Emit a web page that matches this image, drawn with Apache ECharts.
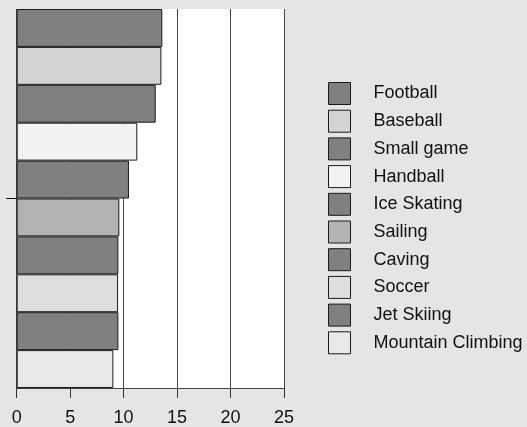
<!DOCTYPE html>
<html><head><meta charset="utf-8">
<script src="https://cdn.jsdelivr.net/npm/echarts@6/dist/echarts.min.js"></script>
<style>html,body{margin:0;padding:0;background:#e5e5e5}#c{width:527px;height:427px}</style>
</head><body><div id="c"></div>
<script>
const categories = ["Football","Baseball","Small game","Handball","Ice Skating","Sailing","Caving","Soccer","Jet Skiing","Mountain Climbing"];
const values = [13.62, 13.53, 13.0, 11.28, 10.5, 9.6, 9.51, 9.48, 9.51, 9.04];
const colors = ["#808080","#d3d3d3","#808080","#f2f2f2","#808080","#b3b3b3","#808080","#dedede","#808080","#e9e9e9"];
const xTicks = [0,5,10,15,20,25];

const font = "'Liberation Sans', Arial, sans-serif";
const series = categories.map((name, i) => ({
  name: name,
  type: 'bar',
  stack: 'all',
  barCategoryGap: '0%',
  barWidth: '100%',
  itemStyle: { color: colors[i], borderColor: '#1a1a1a', borderWidth: 1 },
  emphasis: { disabled: true },
  data: categories.map((c, j) => j === i ? values[i] : '-')
}));

const chart = echarts.init(document.getElementById('c'), null, { renderer: 'canvas' });
chart.setOption({
  animation: false,
  backgroundColor: '#e5e5e5',
  textStyle: { fontFamily: font },
  grid: { left: 16.7, right: 243, top: 9, bottom: 39, show: true, backgroundColor: '#ffffff', borderWidth: 0, containLabel: false },
  xAxis: {
    type: 'value', min: xTicks[0], max: xTicks[xTicks.length-1], interval: 5,
    axisLine: { show: true, lineStyle: { color: '#444', width: 1 } },
    axisTick: { show: true, length: 10, lineStyle: { color: '#333', width: 1 } },
    axisLabel: { color: '#111', fontSize: 18, margin: 21, fontFamily: font },
    splitLine: { show: true, lineStyle: { color: '#444', width: 1 } }
  },
  yAxis: [{
    type: 'category', data: categories, inverse: true,
    axisLine: { show: false }, axisTick: { show: false }, axisLabel: { show: false },
    splitLine: { show: false }
  }, {
    type: 'value', min: 0, max: 10, position: 'left',
    axisLine: { show: false },
    axisLabel: { show: false },
    splitLine: { show: false },
    axisTick: { show: true, length: 10.5, customValues: [5], lineStyle: { color: '#111', width: 1 } }
  }],
  legend: {
    orient: 'vertical', left: 328, top: 82, padding: 0,
    itemWidth: 22, itemHeight: 22, itemGap: 4.7,
    icon: 'rect',
    itemStyle: { borderColor: '#1a1a1a', borderWidth: 1 },
    textStyle: { fontSize: 18, lineHeight: 22, color: '#111', fontFamily: font, padding: [0,0,0,18] },
    data: categories,
    selectedMode: false
  },
  series: series
});
</script></body></html>
